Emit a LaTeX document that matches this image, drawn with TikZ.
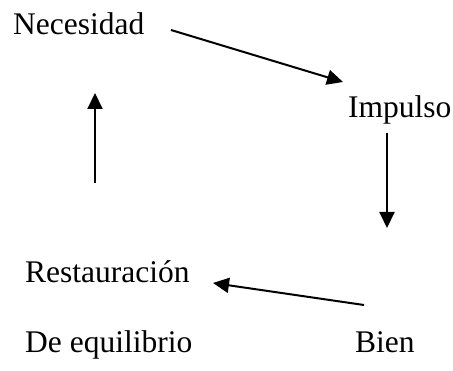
\documentclass[tikz,border=0pt]{standalone}
\usepackage{fontspec}
\setmainfont{Liberation Serif}
\usetikzlibrary{arrows.meta}
\begin{document}
\begin{tikzpicture}[x=1pt,y=1pt,
  lbl/.style={anchor=base west,inner sep=0pt,font=\fontsize{31.5}{36}\selectfont},
  conn/.style={line width=2pt,-{Triangle[length=16pt,width=15pt]}}]
\useasboundingbox (0,0) rectangle (453,370);
\node[lbl] (nec) at (13,335) {Necesidad};
\node[lbl] (imp) at (348,252) {Impulso};
\node[lbl] (res) at (25,88) {Restauración};
\node[lbl] (deq) at (25,18) {De equilibrio};
\node[lbl] (bien) at (355,18) {Bien};
\coordinate (a1s) at (171,340);
\coordinate (a1e) at (343,288);
\coordinate (a2s) at (387,237);
\coordinate (a2e) at (387,142);
\coordinate (a3s) at (364,65);
\coordinate (a3e) at (213,87);
\coordinate (a4s) at (95,187);
\coordinate (a4e) at (95,277);
\draw[conn] (a1s) -- (a1e);
\draw[conn] (a2s) -- (a2e);
\draw[conn] (a3s) -- (a3e);
\draw[conn] (a4s) -- (a4e);
\end{tikzpicture}
\end{document}
